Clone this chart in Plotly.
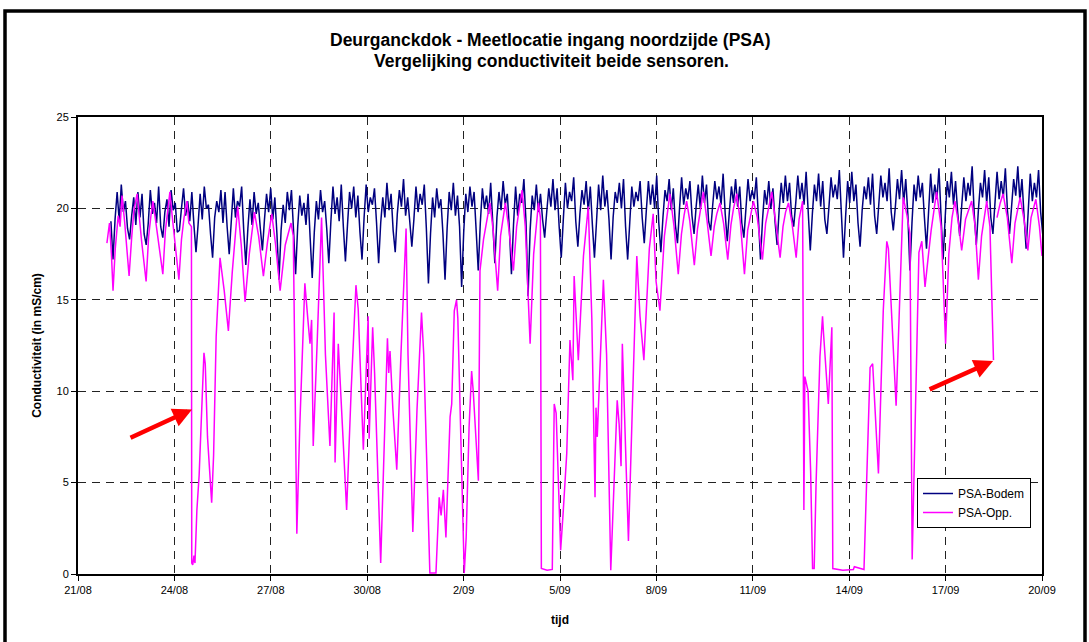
import pandas as pd
import plotly.graph_objects as go

# ---------------- data ----------------
tick_dates = ["2006-08-21", "2006-08-24", "2006-08-27", "2006-08-30", "2006-09-02",
              "2006-09-05", "2006-09-08", "2006-09-11", "2006-09-14", "2006-09-17", "2006-09-20"]
tick_labels = ["21/08", "24/08", "27/08", "30/08", "2/09", "5/09", "8/09",
               "11/09", "14/09", "17/09", "20/09"]

# PSA-Bodem: regular series (one row = one tidal cycle, starting at the low-tide dip)
bodem_start = "2006-08-22 00:35"
bodem_step_min = 93
bodem_first = [19.3]
bodem_cycles = [
    [17.2, 19.4, 20.9, 19.3, 21.3, 19.8, 20.4, 18.9],
    [18.3, 19.6, 20.6, 19.1, 20.9, 19.5, 20.8, 18.6],
    [18.0, 19.2, 21.0, 19.7, 20.3, 19.2, 21.2, 19.0],
    [18.4, 19.8, 20.5, 19.0, 21.0, 19.9, 20.3, 18.7],
    [18.8, 20.0, 21.1, 19.6, 20.4, 19.3, 20.9, 19.1],
    [17.6, 19.1, 20.8, 19.4, 21.2, 20.0, 20.2, 18.6],
    [17.3, 19.5, 20.4, 19.8, 21.0, 19.2, 20.9, 19.0],
    [17.5, 19.3, 21.1, 19.5, 20.4, 20.1, 21.2, 18.8],
    [16.9, 18.9, 20.5, 19.1, 20.9, 19.7, 20.3, 18.9],
    [17.7, 19.4, 20.8, 19.8, 21.1, 19.4, 20.6, 18.6],
    [16.1, 18.8, 20.2, 19.2, 20.9, 19.9, 21.0, 18.8],
    [16.4, 19.0, 20.7, 19.6, 20.3, 19.1, 20.8, 18.4],
    [16.2, 18.7, 20.4, 19.4, 21.0, 19.8, 20.4, 18.9],
    [17.0, 19.3, 21.2, 19.7, 20.6, 19.3, 21.3, 19.0],
    [17.1, 19.1, 20.9, 20.0, 21.2, 19.5, 20.7, 18.7],
    [17.2, 19.5, 21.3, 19.8, 20.6, 20.2, 21.1, 19.2],
    [17.0, 19.2, 20.6, 19.5, 21.4, 19.9, 20.8, 18.8],
    [17.6, 19.7, 21.0, 20.1, 21.6, 19.6, 20.6, 19.3],
    [17.9, 19.4, 21.2, 19.8, 20.8, 20.2, 21.3, 18.9],
    [15.9, 18.6, 20.6, 19.5, 21.1, 20.0, 20.5, 18.6],
    [16.1, 18.9, 20.9, 19.9, 21.4, 19.6, 20.7, 19.0],
    [15.7, 18.7, 20.8, 19.8, 21.2, 20.1, 20.9, 18.8],
    [16.6, 19.2, 21.1, 20.0, 20.7, 19.7, 21.4, 19.2],
    [17.0, 19.5, 20.9, 19.9, 21.5, 20.2, 20.8, 18.9],
    [16.4, 19.1, 21.2, 19.6, 20.8, 20.3, 21.6, 19.3],
    [15.2, 18.8, 20.7, 19.9, 21.3, 19.8, 20.8, 19.4],
    [18.4, 19.8, 21.1, 20.1, 21.6, 19.9, 21.1, 19.0],
    [17.3, 19.4, 21.4, 20.0, 20.9, 20.4, 21.7, 19.3],
    [17.9, 19.7, 21.0, 20.2, 21.5, 19.8, 21.2, 19.1],
    [17.3, 19.3, 21.3, 19.9, 21.8, 20.1, 21.0, 19.4],
    [17.2, 19.5, 20.9, 20.3, 21.4, 20.0, 21.6, 19.0],
    [17.2, 19.2, 21.2, 20.1, 20.9, 20.4, 21.5, 19.5],
    [18.1, 19.9, 21.5, 20.2, 21.3, 20.0, 21.8, 19.2],
    [17.6, 19.5, 21.0, 20.4, 21.6, 19.9, 21.1, 19.1],
    [18.1, 20.0, 21.7, 20.2, 21.1, 20.5, 21.5, 19.6],
    [18.6, 20.1, 21.3, 20.0, 21.8, 20.3, 21.3, 19.3],
    [18.8, 20.2, 21.5, 20.5, 21.2, 20.2, 21.9, 19.7],
    [18.2, 19.8, 21.2, 20.3, 21.6, 20.1, 21.2, 19.2],
    [18.4, 20.0, 21.6, 20.4, 21.0, 20.5, 21.7, 19.5],
    [17.2, 19.4, 21.0, 20.2, 21.5, 20.0, 21.1, 19.3],
    [18.0, 19.9, 21.4, 20.3, 21.8, 20.4, 21.4, 19.6],
    [19.0, 20.3, 21.8, 20.5, 21.4, 20.2, 22.0, 19.8],
    [17.7, 19.7, 21.3, 20.4, 21.9, 20.1, 21.5, 19.4],
    [18.6, 20.1, 21.7, 20.6, 21.3, 20.5, 22.1, 19.7],
    [17.3, 19.5, 21.5, 20.3, 22.0, 20.4, 21.3, 19.2],
    [17.9, 19.9, 21.2, 20.5, 21.7, 20.2, 21.9, 19.6],
    [18.6, 20.2, 21.8, 20.6, 21.4, 20.4, 22.2, 19.8],
    [18.8, 20.1, 21.6, 20.5, 22.1, 20.3, 21.6, 19.7],
    [16.6, 19.2, 21.3, 20.4, 21.8, 20.6, 21.4, 19.5],
    [17.8, 19.8, 21.9, 20.3, 21.3, 20.5, 22.2, 19.6],
    [17.2, 19.5, 21.5, 20.6, 22.0, 20.2, 21.5, 19.8],
    [18.5, 20.2, 21.7, 20.4, 21.4, 20.7, 22.3, 19.7],
    [18.0, 19.9, 21.4, 20.6, 22.1, 20.3, 21.7, 19.5],
    [18.6, 20.3, 22.0, 20.5, 21.5, 20.6, 22.2, 19.9],
    [18.6, 20.1, 21.6, 20.7, 22.3, 20.4, 21.6, 19.6],
    [17.8, 19.8, 21.9, 20.4, 21.4, 20.6, 22.1, 19.8],
]
bodem_last = [18.6]

# PSA-Opp.: time in days after 21/08 00:00, value in mS/cm (None = gap)
opp_day = [
    0.90, 0.98, 1.04, 1.09, 1.16, 1.25, 1.31, 1.37, 1.45, 1.52, 1.59, 1.67, 1.74, 1.84, 1.90,
    1.98, 2.12, 2.20, 2.27, 2.33, 2.41, 2.52, 2.64, 2.72, 2.80, 2.86, 2.93, 3.03, 3.14, 3.22,
    3.30, 3.39, 3.45, 3.53, 3.54, 3.57, 3.61, 3.64, 3.70, 3.77, 3.85, 3.92, 3.96, 4.03, 4.16,
    4.22, 4.30, 4.42, 4.55, 4.68, 4.80, 4.97, 5.08, 5.20, 5.33, 5.49, 5.62, 5.77, 5.90, 6.03,
    6.15, 6.29, 6.45, 6.63, 6.70, 6.81, 6.90, 7.06, 7.15, 7.22, 7.27, 7.32, 7.45, 7.58, 7.70,
    7.84, 7.97, 8.00, 8.10, 8.22, 8.36, 8.50, 8.65, 8.72, 8.88, 9.03, 9.06, 9.17, 9.23, 9.42,
    9.55, 9.63, 9.67, 9.71, 9.80, 9.92, 10.05, 10.21, 10.27, 10.42, 10.55, 10.69, 10.76, 10.95, 11.14,
    11.24, 11.30, 11.37, 11.45, 11.58, 11.63, 11.71, 11.78, 11.82, 12.02, 12.08, 12.17, 12.25, 12.30, 12.40,
    12.46, 12.51, 12.62, 12.82, 12.92, 13.06, 13.15, 13.30, 13.40, 13.55, 13.65, 13.82, 13.92, 14.07, 14.18,
    14.33, 14.39, 14.42, 14.60, 14.76, 14.82, 14.88, 15.02, 15.10, 15.21, 15.31, 15.40, 15.44, 15.57, 15.73,
    15.88, 15.99, 16.09, 16.12, 16.16, 16.35, 16.45, 16.58, 16.78, 16.84, 16.90, 16.94, 17.13, 17.39, 17.44,
    17.49, 17.61, 17.78, 17.90, 17.99, 18.11, 18.25, 18.42, 18.55, 18.68, 18.78, 18.86, 18.94, 19.04, 19.18,
    19.28, 19.36, 19.46, 19.57, 19.70, 19.80, 19.88, 19.98, 20.09, 20.22, 20.32, 20.40, 20.50, 20.61, 20.74,
    20.84, 20.93, 21.02, 21.14, 21.30, 21.40, 21.49, 21.59, 21.70, 21.85, 21.94, 22.02, 22.11, 22.22, 22.35,
    22.44, 22.55, 22.59, 22.62, 22.72, 22.80, 22.86, 22.91, 22.97, 23.09, 23.17, 23.20, 23.28, 23.35, 23.46,
    23.49, 23.80, 24.13, 24.16, 24.46, 24.65, 24.73, 24.91, 25.06, 25.17, 25.22, 25.46, 25.68, 25.80, 25.89,
    25.96, 26.17, 26.26, 26.36, 26.45, 26.55, 26.72, 26.86, 27.00, 27.10, 27.20, 27.29, 27.40, 27.50, 27.62,
    27.81, 27.92, 28.02, 28.12, 28.28, 28.38, 28.45, 28.49, 28.55, 28.60, 28.70, 28.79, 28.92, 29.06, 29.16,
    29.32, 29.44, 29.56, 29.66, 29.81, 29.92, 30.00,
]
opp_val = [
    18.1, 19.2, 17.5, 15.5, 17.8, 19.6, 19.0, 20.7, 19.3, 18.0, 16.3, 18.4, 19.9, 20.8, 19.5,
    18.2, 16.0, 18.5, 19.6, 20.4, 19.4, 18.0, 16.4, 18.8, 19.9, 20.9, 19.6, 18.0, 16.1, 18.3,
    19.5, 20.4, 19.2, 19.0, 0.6, 0.5, 1.0, 0.6, 3.5, 5.4, 9.0, 12.1, 11.5, 7.5, 3.9,
    6.5, 13.0, 17.3, 15.5, 13.3, 16.5, 20.1, 18.0, 14.9, 17.5, 19.8, 18.5, 16.3, 18.2, 19.7,
    18.0, 15.5, 18.0, 19.2, 18.5, 2.2, 8.0, 15.9, 14.0, 12.6, 13.9, 7.0, 13.0, 19.5, 12.0,
    7.0, 14.3, 6.1, 12.6, 8.0, 3.5, 10.0, 15.8, 14.5, 6.8, 14.1, 7.4, 13.5, 11.0, 0.6,
    8.0, 12.9, 11.0, 12.2, 9.0, 5.7, 12.0, 18.9, 12.0, 2.3, 9.0, 14.3, 12.0, 0.05, 0.05,
    4.2, 3.2, 4.6, 2.0, 8.6, 9.3, 14.4, 15.0, 14.0, 0.05, 2.0, 8.0, 11.1, 10.0, 6.5,
    5.1, 16.6, 18.3, 20.3, 18.8, 15.5, 18.5, 20.3, 19.0, 16.6, 19.0, 21.0, 19.0, 12.6, 17.5,
    20.3, 19.5, 0.3, 0.2, 0.25, 9.3, 8.8, 1.3, 3.4, 6.6, 12.8, 10.6, 16.3, 11.7, 17.4,
    20.1, 14.0, 4.2, 9.1, 7.5, 16.1, 12.0, 0.2, 9.5, 8.2, 5.9, 12.6, 1.8, 17.4, 15.5,
    14.1, 11.7, 17.8, 19.7, 16.0, 14.4, 18.5, 20.8, 19.0, 16.4, 18.6, 19.6, 20.4, 19.3, 16.9,
    18.9, 19.8, 20.9, 19.4, 17.4, 19.0, 19.7, 20.3, 19.2, 17.2, 19.1, 20.0, 20.8, 19.3, 16.4,
    18.8, 19.6, 20.4, 19.5, 17.2, 19.2, 20.1, 20.9, 19.4, 17.3, 19.0, 19.8, 20.3, 19.2, 17.3,
    19.4, 20.4, 3.5, 10.8, 10.0, 5.6, 0.3, 0.3, 5.0, 11.9, 14.1, 13.2, 11.0, 9.3, 13.5,
    0.3, 0.2, 0.25, 0.4, 0.25, 11.3, 11.5, 5.5, 14.4, 18.2, 17.8, 9.2, 20.6, 19.6, 18.6,
    0.8, 17.6, 18.2, 15.7, 17.2, 18.8, 20.9, 19.0, 12.6, 17.5, 19.5, 20.4, 19.2, 17.7, 19.4,
    20.4, 19.0, 16.1, 18.5, 20.4, 19.0, 15.0, 11.7, None, 19.5, 20.3, 20.8, 19.5, 17.0, 19.2,
    20.6, 19.4, 17.7, 19.5, 20.5, 19.0, 17.4,
]

# ---------------- build ----------------
bodem_vals = bodem_first + [v for row in bodem_cycles for v in row] + bodem_last
bodem_time = pd.date_range(bodem_start, periods=len(bodem_vals), freq=f"{bodem_step_min}min")
opp_time = pd.Timestamp("2006-08-21") + pd.to_timedelta(opp_day, unit="D")

FONT = "Arial, 'Liberation Sans', Helvetica, sans-serif"

fig = go.Figure()
fig.add_trace(go.Scatter(x=bodem_time, y=bodem_vals, mode="lines", name="PSA-Bodem",
                         line=dict(color="#000080", width=1.5)))
fig.add_trace(go.Scatter(x=opp_time, y=opp_val, mode="lines", name="PSA-Opp.",
                         line=dict(color="#FF00FF", width=1.5), connectgaps=False))

L, R, T, B = 78, 47, 117, 68
W, H = 1089, 642
pw, ph = W - L - R, H - T - B

def px(xp):
    return (xp - L) / pw

def py(yp):
    return (H - B - yp) / ph

fig.update_layout(
    width=W, height=H,
    margin=dict(l=L, r=R, t=T, b=B),
    paper_bgcolor="white", plot_bgcolor="white",
    font=dict(family=FONT, size=11, color="black"),
    showlegend=True,
    legend=dict(x=px(917), y=py(478), xanchor="left", yanchor="top",
                bgcolor="white", bordercolor="black", borderwidth=1,
                font=dict(family=FONT, size=12, color="black"),
                tracegroupgap=0, itemwidth=30),
    annotations=[
        dict(text="<b>Deurganckdok - Meetlocatie ingang noordzijde (PSA)</b>",
             xref="paper", yref="paper", x=px(550), y=py(40), showarrow=False,
             font=dict(family=FONT, size=17.5), xanchor="center", yanchor="middle"),
        dict(text="<b>Vergelijking conductiviteit beide sensoren.</b>",
             xref="paper", yref="paper", x=px(551), y=py(61), showarrow=False,
             font=dict(family=FONT, size=17.5), xanchor="center", yanchor="middle"),
        dict(text="", x=pd.Timestamp("2006-08-24 13:10"), y=9.0, xref="x", yref="y",
             showarrow=True, ax=-63, ay=29, arrowcolor="#FF0000", arrowwidth=4.5,
             arrowhead=2, arrowsize=0.85, standoff=0),
        dict(text="", x=pd.Timestamp("2006-09-18 11:30"), y=11.65, xref="x", yref="y",
             showarrow=True, ax=-65, ay=29, arrowcolor="#FF0000", arrowwidth=4.5,
             arrowhead=2, arrowsize=0.85, standoff=0),
    ],
    shapes=[
        dict(type="rect", xref="paper", yref="paper",
             x0=px(5), x1=px(1085), y0=py(680), y1=py(11),
             line=dict(color="black", width=3.5), fillcolor="rgba(0,0,0,0)", layer="below"),
    ],
)

fig.update_xaxes(
    range=[pd.Timestamp("2006-08-21"), pd.Timestamp("2006-09-20")],
    tickmode="array", tickvals=pd.to_datetime(tick_dates), ticktext=tick_labels,
    ticks="outside", ticklen=5, tickcolor="black",
    showgrid=True, gridcolor="#222222", gridwidth=1, griddash="8px,6px",
    showline=True, linecolor="black", linewidth=2, mirror=True,
    tickfont=dict(family=FONT, size=11, color="black"),
    title=dict(text="<b>tijd</b>", font=dict(family=FONT, size=12), standoff=20),
    zeroline=False,
)
fig.update_yaxes(
    range=[0, 25], tickmode="linear", tick0=0, dtick=5,
    ticks="outside", ticklen=5, tickcolor="black",
    showgrid=True, gridcolor="#222222", gridwidth=1, griddash="8px,6px",
    showline=True, linecolor="black", linewidth=2, mirror=True,
    tickfont=dict(family=FONT, size=11, color="black"),
    title=dict(text="<b>Conductiviteit (in mS/cm)</b>", font=dict(family=FONT, size=12), standoff=12),
    zeroline=False,
)

fig.write_html("out.html")
